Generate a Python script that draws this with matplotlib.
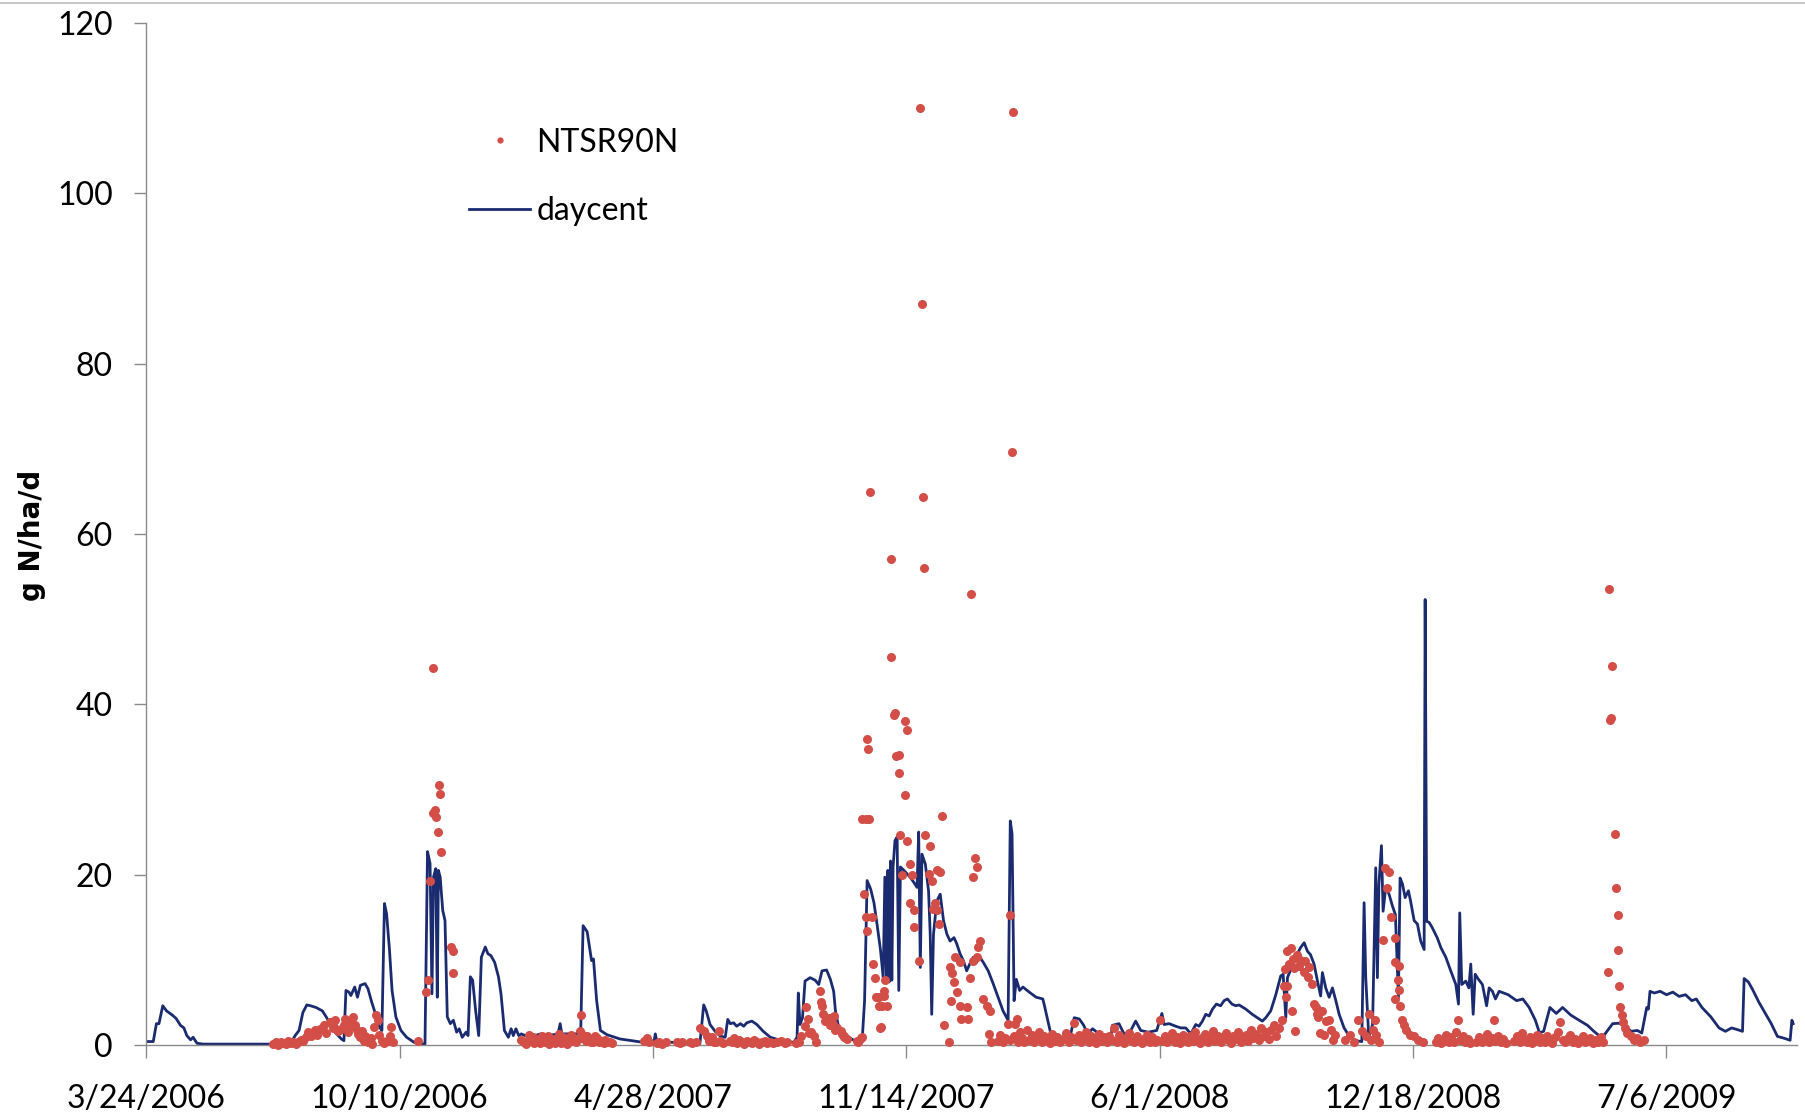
import numpy as np
import pandas as pd
import matplotlib
matplotlib.use("Agg")
import matplotlib.pyplot as plt
from matplotlib.lines import Line2D

plt.rcParams['font.family'] = ['Lato', 'DejaVu Sans']

# start date of the x axis, all days below are counted from it
start = pd.Timestamp("2006-03-24")

# daycent model (line): day offset, g N/ha/d
line_day = [0, 5.5, 8, 10, 13, 16, 20.6, 23.6, 27, 29.7, 32, 35, 37, 40, 45, 111, 114.5, 117.5, 120.6, 123.6,
            126.7, 129.7, 134, 139, 142, 145, 149, 154, 156, 157.6, 160, 161.5, 164.5, 166.7, 169, 172.7, 175, 178, 181, 184,
            186, 188, 189.7, 192, 194, 197, 201, 205.5, 211.5, 220, 222, 224, 225.5, 226.7, 228.5, 229.7, 230.6, 232, 234, 235.8,
            237.6, 240, 242.4, 245, 247, 249.4, 252.4, 254, 255.8, 257.6, 260, 262.4, 264.5, 267.6, 269.7, 272, 275, 278, 280, 282.7,
            285.8, 288, 289.7, 291.8, 294, 296, 302, 311.5, 317.6, 325, 326.7, 328, 340, 343, 344.8, 348, 351.5, 353, 355.5, 358.5,
            363.7, 374, 392.6, 400.5, 401.8, 403, 437, 440, 442, 445, 449, 453, 457, 459, 461, 463.7, 466, 469, 471.6, 474,
            478, 482, 487, 492.6, 500.5, 511, 513.7, 514.7, 516, 518, 520, 524, 528, 530.8, 533.4, 537, 540, 542.6, 544, 546.6,
            550.5, 554.5, 558.4, 565, 567, 569, 571.8, 574.4, 577, 579.6, 581.7, 583, 584.3, 585.4, 586.4, 587.5, 588.5, 589.5, 591, 592.7,
            594, 595.3, 598, 600.5, 603, 605.8, 608.4, 609.7, 611, 612.3, 615, 617.5, 618.8, 620, 621.4, 624, 626.7, 629.3, 632, 634.5,
            637.6, 639.7, 642.4, 645, 647.6, 650, 652.8, 655.4, 658, 660.7, 664.6, 668.5, 672.4, 676.3, 680.3, 682, 683.4, 685, 686.8, 689.4,
            692, 697, 702.5, 707.7, 709, 711.6, 714, 718, 728.6, 732.5, 736.5, 740, 743, 747, 752, 761, 762.6, 767.8, 771.8, 775.7,
            781, 785, 791, 797.6, 801.7, 803.4, 807.4, 812.6, 816.6, 820.5, 824.5, 828.4, 831, 833.7, 836.3, 839, 841.6, 844.7, 848, 850.8,
            853.4, 857, 860, 862.6, 868, 873, 877, 881, 883.7, 887.6, 891.6, 895.5, 897.4, 899.5, 900.8, 904, 907.4, 911, 914, 916.6,
            919, 921.8, 924.5, 927, 928.4, 931, 933.7, 936.3, 939, 941.6, 945.5, 949.5, 954.7, 959.5, 961.3, 962.6, 965, 968, 970.5, 971.8,
            973, 975, 976.3, 978.4, 981, 983.7, 986, 988.4, 989.7, 991.6, 993.7, 996.3, 998, 1000.8, 1003.4, 1006, 1008.7, 1009.5, 1010.7, 1012.6,
            1015, 1019, 1022, 1025.8, 1029.7, 1033.7, 1035.8, 1036.8, 1038.4, 1041.6, 1044, 1045.5, 1047.4, 1049, 1051.6, 1054.7, 1058, 1060, 1062.6, 1065,
            1067.9, 1075, 1081.7, 1086.6, 1091.6, 1096.5, 1099.8, 1103, 1108, 1113, 1118, 1124.5, 1131, 1137.7, 1142.7, 1147.6, 1151, 1157.5, 1162.4, 1167,
            1172, 1177, 1180.5, 1183, 1184.4, 1185.7, 1187, 1190.4, 1195, 1200, 1205, 1210, 1215, 1220, 1223.5, 1228, 1235, 1241.5, 1246.5, 1251.4,
            1256, 1260, 1261.3, 1264.6, 1268, 1273, 1278, 1282.7, 1287.6, 1292.6, 1297.6, 1299, 1300]
line_val = [0.4, 0.4, 2.5, 2.5, 4.6, 4.0, 3.5, 3.1, 2.3, 2.0, 1.1, 0.6, 0.9, 0.2, 0.1, 0.1, 0.3, 1.1, 1.7, 3.8,
            4.7, 4.6, 4.4, 4.0, 3.3, 2.5, 1.5, 0.7, 0.5, 6.4, 6.2, 5.8, 6.8, 5.6, 7.0, 7.2, 6.6, 5.0, 3.6, 2.1,
            1.7, 16.6, 15.4, 11.1, 6.4, 3.3, 1.7, 0.9, 0.3, 0.1, 22.7, 21.3, 6.0, 19.7, 20.7, 5.6, 20.5, 19.7, 15.8, 14.6,
            3.3, 2.5, 2.9, 1.5, 1.9, 0.9, 1.5, 1.1, 8.0, 7.6, 4.0, 1.1, 10.3, 11.5, 10.7, 10.5, 9.7, 8.0, 6.0, 1.7,
            0.9, 1.9, 1.1, 1.9, 1.1, 1.3, 0.9, 1.3, 1.1, 1.3, 2.5, 1.3, 1.3, 2.1, 14.0, 13.3, 9.9, 10.1, 5.2, 1.7,
            1.2, 0.7, 0.3, 0.15, 1.3, 0.4, 0.15, 4.7, 4.0, 2.4, 1.6, 1.05, 0.9, 3.0, 2.5, 2.6, 2.2, 2.5, 2.2, 2.6,
            2.8, 2.4, 1.6, 0.9, 0.55, 0.3, 0.9, 6.1, 2.4, 3.2, 7.5, 7.9, 7.6, 7.1, 8.7, 8.8, 7.7, 6.3, 4.0, 2.0,
            1.45, 0.9, 0.55, 0.3, 5.2, 19.3, 18.3, 16.7, 14.0, 11.1, 7.9, 19.7, 7.6, 20.5, 7.4, 21.6, 7.6, 20.9, 24.0, 24.4,
            6.4, 20.9, 20.5, 20.1, 19.7, 19.1, 18.5, 25.0, 9.1, 22.4, 21.2, 18.1, 13.0, 3.6, 13.0, 16.9, 17.7, 14.6, 13.0, 12.2,
            12.6, 11.9, 10.7, 9.9, 8.7, 9.5, 10.3, 9.7, 10.3, 9.7, 8.7, 7.2, 5.6, 4.0, 2.9, 26.3, 24.8, 5.2, 7.7, 6.4,
            6.8, 6.2, 5.6, 5.4, 4.6, 2.9, 1.3, 0.3, 0.5, 3.2, 3.05, 2.3, 1.3, 1.9, 1.3, 0.3, 2.3, 2.5, 1.3, 1.3,
            2.8, 1.7, 1.5, 1.7, 3.7, 2.4, 2.5, 2.2, 2.0, 2.0, 1.3, 2.4, 2.2, 2.8, 3.6, 3.4, 4.2, 4.8, 4.6, 5.2,
            5.4, 4.8, 4.6, 4.7, 4.2, 3.6, 3.2, 2.8, 3.2, 4.0, 5.9, 8.1, 8.3, 3.2, 7.9, 9.1, 10.3, 11.4, 12.0, 11.0,
            10.6, 9.5, 7.5, 5.75, 8.5, 6.7, 5.6, 6.7, 5.2, 3.6, 2.0, 1.05, 0.5, 0.4, 16.7, 7.9, 0.9, 2.4, 20.8, 7.9,
            18.9, 23.4, 15.7, 18.5, 17.7, 16.3, 15.3, 5.6, 19.6, 18.9, 17.3, 18.1, 16.9, 14.6, 14.2, 12.2, 11.2, 52.3, 14.5, 14.4,
            13.8, 12.6, 11.4, 10.3, 8.7, 7.1, 4.8, 15.5, 7.1, 7.5, 6.7, 9.5, 3.6, 8.3, 7.7, 7.1, 4.6, 6.7, 6.3, 5.4,
            6.3, 5.9, 5.2, 5.4, 4.4, 2.9, 1.4, 1.6, 4.4, 3.7, 4.4, 3.5, 2.9, 2.3, 1.6, 1.0, 1.2, 2.5, 2.55, 2.3,
            1.6, 1.7, 1.4, 3.3, 4.4, 4.2, 6.3, 6.1, 6.3, 5.9, 6.2, 5.7, 5.9, 5.2, 5.4, 4.4, 3.3, 2.0, 1.6, 2.0,
            1.8, 1.6, 7.8, 7.4, 6.5, 5.0, 3.7, 2.5, 1.0, 0.8, 0.55, 2.9, 2.5]

# NTSR90N measurements (dots): day offset, g N/ha/d
obs_day = [100, 102, 104, 106, 108, 110, 112, 114, 116, 118, 120, 122, 124, 126, 128, 130, 133, 135, 137, 140,
           142, 145, 147, 148, 149, 151, 154, 156, 157, 159, 160, 162, 163, 164.5, 166, 167.5, 169, 170, 172, 173,
           175, 177, 178, 180, 181, 183, 184, 186, 188, 190, 192, 193, 195, 214.5,
           220.6, 222, 224, 226.7, 226.7, 228, 229, 230, 231, 232, 233, 240.3, 241.8, 242.4,
           296, 298, 300, 302, 303, 305, 306, 308, 309, 311, 312, 314, 315, 317, 318, 320, 321, 323, 324, 326,
           327, 329, 330, 332, 333, 335, 336, 338, 339, 341, 342, 343, 344, 345, 347, 348, 350, 351, 353, 354,
           356, 357, 359, 361, 362, 364, 366, 368,
           393, 395, 397, 403, 405, 407, 410, 419, 421, 423, 429, 431, 434,
           437, 440, 442.6, 444, 446.6, 448, 450, 452, 453, 455,
           461, 462, 464, 466, 468, 470, 472, 474, 476, 478, 480, 482, 484, 486, 488, 490, 492, 495, 498, 501, 504, 506,
           513, 515, 517, 520, 521, 522, 523, 525, 527, 529,
           532, 532.5, 533, 534, 536, 537, 539, 540, 541.7, 542.6, 544, 545, 548, 549, 550.5, 551, 553,
           561, 562, 564, 565,
           565.2, 567.8, 570.5, 566.5, 568, 568.6, 569, 569.7, 571, 573, 574, 575, 575.7, 577, 578, 578.3, 579.5, 580, 581, 582,
           582.2, 583.5, 584.8, 587.5, 588, 590, 591, 592, 594, 594, 595.3, 596.6, 599, 599, 600.5, 600.5, 603, 603, 604.4, 606,
           606, 609.7, 611, 612, 613, 614, 615, 617.5, 618.8, 620, 621.4, 622.7, 624, 624, 625.4, 626.7, 628,
           630, 633.5, 634.5, 635, 636, 637.6, 638, 640, 642, 642, 643, 647.6, 649, 650, 651, 652.8, 652.8, 654, 655.4, 655.4,
           656.7, 658, 660.7, 663.3, 665, 666, 667,
           672, 674, 676, 678, 680, 681.6, 682, 683, 684, 685, 686, 687, 688, 690, 691, 693, 695, 697, 699, 701,
           703, 705, 707, 709, 711, 713, 715, 717, 719, 721, 724, 726, 728, 730, 732, 734, 736, 738, 740, 742,
           744, 746, 748, 750, 752, 754, 756, 758, 760, 762, 764, 766, 768, 770, 772, 774, 776, 778, 780, 782,
           784, 786, 788, 790, 792, 794, 796, 798, 800, 802, 804, 806, 808, 810, 812, 814, 816, 818, 820, 822,
           824, 826, 828, 830, 832, 834, 836, 838, 840, 842, 844, 846, 848, 850, 852, 854, 856, 858, 860, 862,
           864, 866, 868, 870, 872, 874, 876, 878, 880, 882, 884, 886, 888, 890, 892,
           894, 896.5, 898, 898.8, 899.5, 900.5, 900.5, 902, 903.8, 904, 905.4, 906, 907, 908.7, 910, 911, 913.7, 915, 917, 918,
           920, 922, 923, 924, 925, 926.8, 928, 930, 931, 933.4, 935, 936.7, 938,
           946.6, 950, 953, 956.5, 959.8, 963, 965, 966.4, 968, 969.7, 971, 973,
           976, 978, 979.6, 981, 982.9, 985.5, 986, 986, 987.8, 988.5, 988.8, 989.5, 991, 992.8, 994.4, 997.7, 1001, 1004, 1007.6,
           1018, 1020, 1022, 1024, 1026, 1028, 1030, 1032, 1034, 1035.6, 1037, 1039, 1041, 1043, 1045, 1050, 1052, 1054, 1056, 1058,
           1060, 1062, 1063.6, 1065, 1067, 1069, 1071, 1073, 1080, 1082, 1084, 1086, 1088, 1090, 1092, 1094, 1096, 1098, 1100, 1102,
           1104, 1106, 1108, 1110, 1112, 1114, 1116, 1118, 1120, 1122, 1124, 1126, 1128, 1130, 1132, 1134, 1136, 1138, 1140, 1142,
           1144, 1146, 1148, 1150,
           1153.5, 1155, 1155.5, 1156, 1156.8, 1159, 1160, 1161.5, 1161.5, 1162.4, 1163.4, 1164.7, 1165.7, 1167, 1169, 1172, 1174, 1177, 1179, 1182]
obs_val = [0.1, 0.3, 0.0, 0.4, 0.2, 0.1, 0.5, 0.2, 0.4, 0.1, 0.3, 0.6, 0.5, 0.9, 1.5, 1.0, 1.7, 1.2, 1.9, 2.3,
           1.4, 2.7, 2.0, 2.1, 2.9, 1.6, 1.9, 2.4, 3.1, 1.5, 2.7, 2.2, 3.3, 2.3, 1.8, 1.3, 0.9, 1.6, 0.5, 1.1,
           0.3, 0.8, 0.1, 2.1, 3.5, 2.9, 1.2, 0.5, 0.2, 0.5, 1.0, 2.1, 0.3, 0.5,
           6.2, 7.6, 19.3, 44.2, 27.2, 27.6, 26.8, 25.0, 30.5, 29.5, 22.7, 11.5, 11.0, 8.4,
           0.6, 0.3, 0.1, 1.2, 0.5, 0.9, 0.2, 0.7, 0.4, 0.2, 1.0, 0.6, 0.3, 1.1, 0.1, 0.7, 0.4, 0.2, 0.8, 1.3,
           0.2, 0.9, 0.5, 0.1, 0.3, 1.2, 0.9, 0.5, 0.3, 0.7, 1.6, 3.5, 0.8, 1.2, 0.5, 1.1, 0.7, 0.3, 0.4, 1.0,
           0.8, 0.3, 0.5, 0.2, 0.6, 0.3, 0.4, 0.2,
           0.5, 0.8, 0.3, 0.2, 0.3, 0.1, 0.3, 0.3, 0.2, 0.4, 0.3, 0.2, 0.4,
           2.0, 1.6, 1.05, 0.5, 0.9, 0.4, 0.3, 1.6, 0.5, 0.2,
           0.5, 0.3, 0.8, 0.2, 0.6, 0.3, 0.1, 0.5, 0.3, 0.2, 0.6, 0.4, 0.1, 0.3, 0.5, 0.2, 0.4, 0.2, 0.3, 0.5, 0.2, 0.3,
           0.2, 0.3, 1.0, 2.2, 4.5, 3.0, 1.45, 1.5, 1.05, 0.3,
           6.3, 5.0, 4.6, 3.6, 2.8, 2.9, 3.2, 2.4, 2.5, 3.4, 1.7, 2.0, 1.6, 1.3, 1.05, 0.9, 0.7,
           0.5, 0.4, 0.8, 0.9,
           26.5, 26.5, 26.5, 17.7, 15.0, 13.4, 35.9, 34.7, 64.9, 15.0, 9.5, 7.9, 5.6, 5.6, 4.6, 5.6, 2.0, 2.1, 4.6, 6.3,
           5.8, 7.6, 4.6, 45.5, 57.0, 38.7, 39.0, 33.9, 34.1, 31.9, 24.6, 20.0, 38.0, 29.3, 37.0, 24.0, 21.2, 16.7, 19.9, 15.8,
           13.8, 9.9, 110.0, 87.0, 64.3, 56.0, 24.6, 20.1, 23.4, 19.3, 16.0, 16.7, 20.5, 15.8, 14.2, 20.3, 26.9,
           2.4, 0.3, 9.2, 5.2, 8.4, 7.4, 10.3, 6.2, 4.6, 9.7, 3.0, 4.4, 3.0, 7.9, 53.0, 19.7, 9.9, 22.0, 20.9, 10.3,
           11.5, 12.2, 5.4, 4.6, 1.3, 4.0, 0.3,
           0.5, 1.2, 0.3, 0.8, 2.5, 15.2, 0.6, 69.6, 109.5, 1.0, 2.5, 3.0, 0.4, 1.5, 0.8, 0.3, 1.8, 0.6, 1.2, 0.3,
           0.9, 1.5, 0.4, 1.0, 0.6, 0.2, 1.3, 0.5, 0.9, 0.3, 0.7, 1.4, 0.4, 0.9, 2.6, 0.6, 1.2, 0.3, 0.8, 1.5,
           0.4, 1.0, 0.6, 0.2, 1.3, 0.5, 0.9, 0.3, 1.1, 0.6, 2.0, 0.4, 1.2, 0.7, 0.2, 0.9, 1.4, 0.5, 0.3, 1.0,
           0.6, 0.2, 0.8, 1.2, 0.4, 0.9, 0.3, 0.6, 2.9, 0.5, 1.1, 0.3, 0.8, 1.4, 0.4, 0.9, 0.2, 1.2, 0.6, 0.3,
           1.0, 0.5, 1.5, 0.7, 0.2, 0.9, 1.3, 0.4, 0.8, 1.6, 0.5, 1.1, 0.3, 0.9, 1.4, 0.6, 0.2, 1.0, 0.7, 1.5,
           0.4, 0.9, 1.2, 0.5, 1.7, 0.8, 1.3, 0.6, 2.0, 1.1, 1.5, 0.7, 1.8, 2.3, 1.0,
           2.0, 2.9, 6.9, 8.9, 5.6, 11.0, 6.9, 9.5, 11.4, 4.0, 10.1, 9.0, 1.6, 10.6, 9.3, 10.0, 8.6, 9.8, 8.0, 9.1,
           7.1, 4.8, 4.4, 3.6, 3.3, 1.4, 4.0, 1.2, 2.8, 2.9, 1.8, 0.55, 1.2,
           0.55, 1.2, 0.4, 2.9, 1.6, 1.0, 3.6, 0.55, 1.8, 2.9, 1.2, 0.4,
           12.3, 20.8, 18.4, 20.3, 15.0, 12.5, 9.7, 5.4, 7.6, 6.5, 9.3, 4.6, 2.9, 2.3, 1.8, 1.2, 1.0, 0.55, 0.3,
           0.3, 0.8, 0.2, 0.5, 1.2, 0.4, 0.9, 0.3, 1.5, 2.9, 0.6, 1.1, 0.3, 0.7, 0.2, 0.4, 0.9, 0.3, 0.6, 1.3,
           0.4, 0.8, 2.9, 0.5, 1.1, 0.3, 0.7, 0.2, 0.5, 1.0, 0.4, 1.4, 0.6, 0.3, 0.9, 0.2, 0.7, 1.2, 0.4, 0.8,
           0.3, 1.0, 0.5, 0.2, 0.9, 1.5, 2.7, 0.6, 0.3, 0.8, 1.2, 0.4, 0.7, 0.2, 0.6, 1.0, 0.3, 0.5, 0.8, 0.2,
           0.6, 0.4, 0.9, 0.3,
           8.6, 53.5, 38.2, 38.4, 44.5, 24.8, 18.4, 15.2, 11.2, 6.9, 4.4, 3.5, 2.7, 2.0, 1.4, 1.0, 0.55, 0.8, 0.3, 0.55]

tick_labels = ["3/24/2006", "10/10/2006", "4/28/2007", "11/14/2007", "6/1/2008", "12/18/2008", "7/6/2009"]
y_ticks = [0, 20, 40, 60, 80, 100, 120]

line_x = start + pd.to_timedelta(line_day, unit="D")
obs_x = start + pd.to_timedelta(obs_day, unit="D")
tick_x = pd.to_datetime(tick_labels, format="%m/%d/%Y")

fig = plt.figure(figsize=(18.06, 11.17), dpi=100)
ax = fig.add_axes([0.081, 0.0645, 0.914, 0.915])

navy = "#1b2b70"
red = "#d24e47"
grey = "#8a8a8a"

ax.plot(line_x, line_val, color=navy, lw=2.0, zorder=2)
ax.plot(obs_x, obs_val, ls="none", marker="o", ms=6.5, color=red, mew=0, zorder=3, clip_on=False)

ax.set_xlim(start, start + pd.Timedelta(days=1303))
ax.set_ylim(0, 120)
ax.set_xticks(tick_x)
ax.set_xticklabels(tick_labels)
ax.set_yticks(y_ticks)
ax.set_yticklabels([str(v) for v in y_ticks])

for s in ["top", "right"]:
    ax.spines[s].set_visible(False)
for s in ["left", "bottom"]:
    ax.spines[s].set_color(grey)
    ax.spines[s].set_linewidth(1.0)
ax.tick_params(axis="both", length=9, width=1.0, color=grey, labelsize=23, labelcolor="black")
ax.tick_params(axis="y", pad=15)
ax.tick_params(axis="x", pad=19)

fig.text(0.0175, 0.521, "g N/ha/d", rotation=90, ha="center", va="center",
         fontsize=20, fontweight="bold", family="DejaVu Sans")

handles = [Line2D([], [], ls="none", marker="o", ms=4.5, color=red, mew=0),
           Line2D([], [], color=navy, lw=2.0)]
ax.legend(handles, ["NTSR90N", "daycent"], loc="center left", bbox_to_anchor=(0.1956, 0.8495),
          frameon=False, fontsize=23, handlelength=1.9, handletextpad=0.2, labelspacing=1.2,
          borderaxespad=0, borderpad=0)

# thin border line at the very top of the picture
fig.add_artist(Line2D([0, 1], [0.9975, 0.9975], color="#bdbdbd", lw=1.2, transform=fig.transFigure))

fig.savefig("out.png", dpi=100)
